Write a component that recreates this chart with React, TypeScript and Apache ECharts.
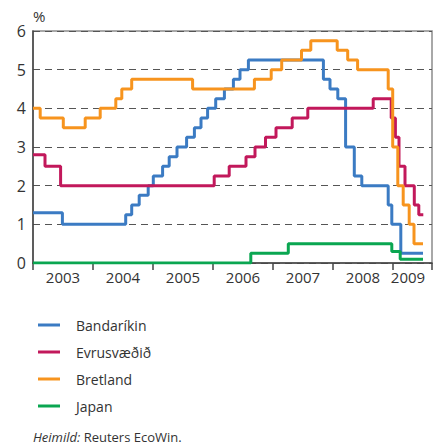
import React, { useEffect, useRef } from "react";
import * as echarts from "echarts";

// Time in decimal years, value in %
const usT = [2003.0, 2003.49, 2004.545, 2004.645, 2004.77, 2004.92, 2005.005, 2005.16, 2005.27, 2005.4, 2005.56, 2005.69, 2005.8, 2005.91, 2006.045, 2006.19, 2006.34, 2006.45, 2006.59, 2007.84, 2007.95, 2008.08, 2008.21, 2008.355, 2008.48, 2008.92, 2008.98, 2009.13, 2009.5];
const usV = [1.3, 1.0, 1.25, 1.5, 1.75, 2.0, 2.25, 2.5, 2.75, 3.0, 3.25, 3.5, 3.75, 4.0, 4.25, 4.5, 4.75, 5.0, 5.25, 4.75, 4.5, 4.25, 3.0, 2.25, 2.0, 1.5, 1.0, 0.25, 0.25];

const euT = [2003.0, 2003.2, 2003.46, 2006.02, 2006.27, 2006.55, 2006.7, 2006.875, 2007.05, 2007.32, 2007.58, 2008.67, 2008.97, 2009.04, 2009.1, 2009.2, 2009.355, 2009.43, 2009.505];
const euV = [2.8, 2.5, 2.0, 2.25, 2.5, 2.75, 3.0, 3.25, 3.5, 3.75, 4.0, 4.25, 3.75, 3.25, 2.5, 2.0, 1.5, 1.25, 1.25];

const ukT = [2003.0, 2003.12, 2003.505, 2003.87, 2004.12, 2004.38, 2004.48, 2004.645, 2005.66, 2006.69, 2006.97, 2007.145, 2007.475, 2007.63, 2008.07, 2008.245, 2008.41, 2008.92, 2008.995, 2009.08, 2009.17, 2009.27, 2009.35, 2009.5];
const ukV = [4.0, 3.75, 3.5, 3.75, 4.0, 4.25, 4.5, 4.75, 4.5, 4.75, 5.0, 5.25, 5.5, 5.75, 5.5, 5.25, 5.0, 4.5, 3.0, 2.0, 1.5, 1.0, 0.5, 0.5];

const jpT = [2003.0, 2006.63, 2007.255, 2008.98, 2009.12, 2009.5];
const jpV = [0.0, 0.25, 0.5, 0.3, 0.1, 0.1];

const seriesNames = ["Bandaríkin", "Evrusvæðið", "Bretland", "Japan"];
const seriesColors = ["#3b7bc3", "#c2185b", "#f7941e", "#0aa651"];
const yearLabels = ["2003", "2004", "2005", "2006", "2007", "2008", "2009"];

const X_MIN = 2003;
const X_MAX = 2009.65;

const zip = (t: number[], v: number[]) => t.map((x, i) => [x, v[i]]);

export default function App() {
  const ref = useRef<HTMLDivElement>(null);
  useEffect(() => {
    document.body.style.margin = "0";
    const chart = echarts.init(ref.current!, null, { renderer: "svg" });
    const font = "'Open Sans', 'Noto Sans', sans-serif";
    const data = [zip(usT, usV), zip(euT, euV), zip(ukT, ukV), zip(jpT, jpV)];
    chart.setOption({
      animation: false,
      textStyle: { fontFamily: font },
      grid: {
        left: 33,
        top: 31,
        right: 3,
        bottom: 185,
        show: true,
        borderColor: "#8c8c8c",
        borderWidth: 1.5,
      },
      legend: {
        orient: "vertical",
        left: 33,
        top: 310,
        icon: "rect",
        itemWidth: 22,
        itemHeight: 3,
        itemGap: 7,
        data: seriesNames,
        textStyle: {
          fontFamily: font,
          fontSize: 14,
          color: "#333",
          lineHeight: 20,
          padding: [0, 0, 0, 11],
        },
      },
      xAxis: [
        {
          type: "value",
          min: X_MIN,
          max: X_MAX,
          interval: 1,
          axisLine: { show: true, lineStyle: { color: "#444", width: 1.5 } },
          axisTick: { show: true, length: 7, lineStyle: { color: "#444", width: 1.5 } },
          axisLabel: { show: false },
          splitLine: { show: false },
        },
        {
          type: "value",
          position: "bottom",
          min: X_MIN,
          max: X_MAX,
          interval: 0.25,
          axisLine: { show: false },
          axisTick: { show: false },
          splitLine: { show: false },
          axisLabel: {
            show: true,
            margin: 6,
            fontSize: 15,
            color: "#333",
            fontFamily: font,
            showMaxLabel: false,
            showMinLabel: true,
            formatter: (v: number) => {
              const y = Math.floor(v + 1e-9);
              const f = v - y;
              const idx = y - 2003;
              if (y < 2009 && Math.abs(f - 0.5) < 1e-6) return yearLabels[idx];
              if (y === 2009 && Math.abs(f - 0.25) < 1e-6) return yearLabels[idx];
              return "";
            },
          },
        },
      ],
      yAxis: {
        type: "value",
        min: 0,
        max: 6,
        interval: 1,
        name: "%",
        nameLocation: "end",
        nameGap: 8,
        nameTextStyle: { fontSize: 15, color: "#333", align: "left", padding: [0, 0, 0, 0], fontFamily: font },
        axisLine: { show: true, lineStyle: { color: "#444", width: 1.5 } },
        axisTick: { show: false },
        axisLabel: { fontSize: 16, color: "#333", margin: 7, fontFamily: font },
        splitLine: { show: true, lineStyle: { color: "#555", width: 1, type: [7, 5] } },
      },
      series: seriesNames.map((name, i) => ({
        name,
        type: "line",
        step: "end",
        showSymbol: false,
        data: data[i],
        xAxisIndex: 0,
        color: seriesColors[i],
        itemStyle: { color: seriesColors[i] },
        lineStyle: { color: seriesColors[i], width: 3 },
        z: i === 3 ? 5 : 3,
      })),
      graphic: [
        {
          type: "text",
          left: 33,
          top: 430,
          style: {
            text: "{i|Heimild:} Reuters EcoWin.",
            fill: "#333",
            fontSize: 13,
            fontFamily: font,
            rich: {
              i: { fontStyle: "italic", fontSize: 13, fill: "#333", fontFamily: font },
            },
          },
        },
      ],
    });
    return () => chart.dispose();
  }, []);
  return <div ref={ref} style={{ width: 435, height: 448 }} />;
}
